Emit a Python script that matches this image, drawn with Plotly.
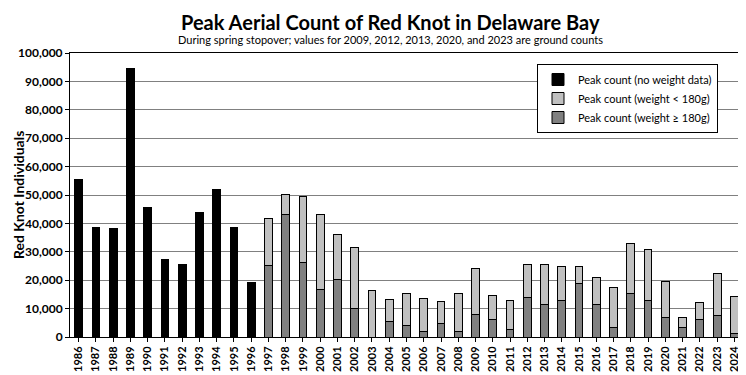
import plotly.graph_objects as go

years = [str(y) for y in range(1986, 2025)]

no_weight_years = [str(y) for y in range(1986, 1997)]
no_weight_counts = [55300, 38500, 38100, 94500, 45500, 27200, 25400, 43700, 51800, 38500, 19100]

weight_years = [str(y) for y in range(1997, 2025)]
total_counts = [41900, 50100, 49400, 43100, 36000, 31400, 16200, 13100, 15200, 13400,
                12400, 15200, 24000, 14500, 12700, 25400, 25400, 24700, 24700, 20800,
                17600, 32800, 30700, 19400, 6700, 12000, 22200, 14100]
heavy_counts = [25100, 43300, 26100, 16600, 20100, 10200, 0, 5300, 4200, 1800,
                4900, 2100, 8100, 6300, 2500, 13900, 11600, 13000, 19000, 11600,
                3500, 15200, 13000, 6700, 3200, 6300, 7400, 1400]
light_counts = [t - h for t, h in zip(total_counts, heavy_counts)]

y_ticks = list(range(0, 100001, 10000))
y_tick_labels = ["<b>{:,}</b>".format(v) for v in y_ticks]

FONT = "Lato"

L, R, T, B = 62, 11, 45, 46
PW = 746 - L - R
PH = 375 - T - B

fig = go.Figure()
fig.add_trace(go.Bar(
    x=no_weight_years, y=no_weight_counts, name="Peak count (no weight data)",
    marker=dict(color="#000000", line=dict(color="#000000", width=1)),
    legendrank=1, width=0.45,
))
fig.add_trace(go.Bar(
    x=weight_years, y=heavy_counts, name="Peak count (weight ≥ 180g)",
    marker=dict(color="#808080", line=dict(color="#000000", width=1)),
    legendrank=3, width=0.45,
))
fig.add_trace(go.Bar(
    x=weight_years, y=light_counts, name="Peak count (weight < 180g)",
    marker=dict(color="#C0C0C0", line=dict(color="#000000", width=1)),
    legendrank=2, width=0.45,
))

fig.update_layout(
    width=746, height=375,
    barmode="stack",
    plot_bgcolor="white", paper_bgcolor="white",
    margin=dict(l=L, r=R, t=T, b=B, autoexpand=False),
    font=dict(family=FONT, color="#000000"),
    showlegend=True,
    legend=dict(
        x=(529 - L) / PW, y=1 - (56 - T) / PH, xanchor="left", yanchor="top",
        bgcolor="white", bordercolor="#000000", borderwidth=1,
        font=dict(size=11, family=FONT, color="#000000"),
        traceorder="normal", tracegroupgap=0, itemwidth=30,
    ),
)
fig.add_annotation(text="<b>Peak Aerial Count of Red Knot in Delaware Bay</b>",
                   xref="paper", yref="paper", x=(382 - L) / PW, y=1 + (T - 0) / PH,
                   xanchor="center", yanchor="top",
                   showarrow=False, font=dict(size=20, family=FONT))
fig.add_annotation(text="During spring stopover; values for 2009, 2012, 2013, 2020, and 2023 are ground counts",
                   xref="paper", yref="paper", x=(382 - L) / PW, y=1 + (T - 23) / PH,
                   xanchor="center", yanchor="top",
                   showarrow=False, font=dict(size=11, family=FONT))
fig.add_annotation(text="<b>Red Knot Individuals</b>",
                   xref="paper", yref="paper", x=-(L - 10) / PW, y=0.5,
                   xanchor="center", yanchor="middle", textangle=-90,
                   showarrow=False, font=dict(size=14, family=FONT))

fig.update_xaxes(
    type="category", categoryorder="array", categoryarray=years,
    tickmode="array", tickvals=years, ticktext=["<b>" + y + "</b>" for y in years],
    tickangle=-90, tickfont=dict(size=11, family=FONT),
    ticks="outside", ticklen=4, tickcolor="#000000",
    showline=True, linecolor="#000000", linewidth=1, mirror=True,
    showgrid=False, automargin=False,
)
fig.update_yaxes(
    range=[0, 100000], tickmode="array", tickvals=y_ticks, ticktext=y_tick_labels,
    tickfont=dict(size=12, family=FONT),
    ticks="outside", ticklen=4, tickcolor="#000000",
    showline=True, linecolor="#000000", linewidth=1, mirror=True,
    showgrid=True, gridcolor="#808080", gridwidth=1, automargin=False,
)

fig.write_html("out.html")
